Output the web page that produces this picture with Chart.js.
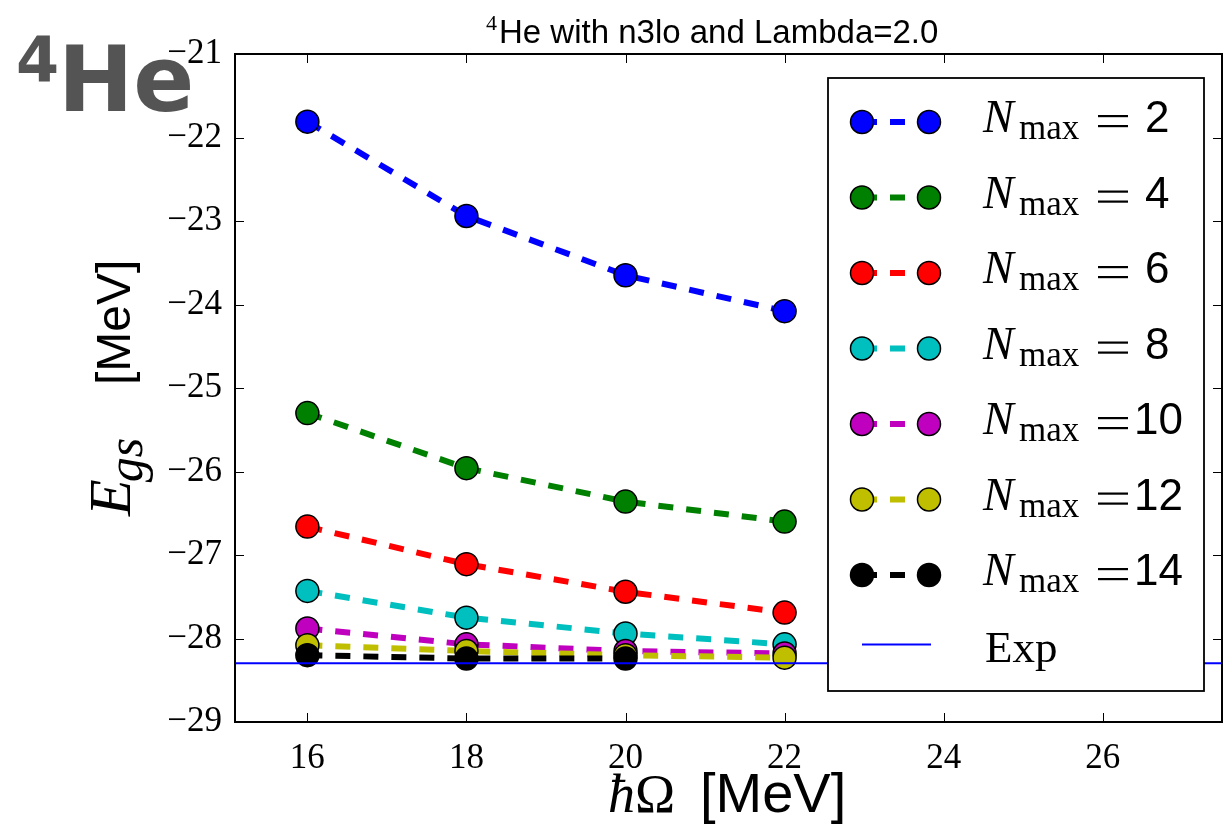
<!DOCTYPE html>
<html>
<head>
<meta charset="utf-8">
<script src="https://cdn.jsdelivr.net/npm/chart.js@4.4.1/dist/chart.umd.min.js"></script>
<style>
  html, body { margin: 0; padding: 0; background: #fff; overflow: hidden; }
  #wrap { width: 1235px; height: 825px; }
</style>
</head>
<body>
<div id="wrap"><canvas id="egsChart" width="1235" height="825"></canvas></div>
<script>
// hbar*Omega values (MeV) and ground-state energies per Nmax
const hbarOmega = [16, 18, 20, 22];
const nmaxLabels = ['2', '4', '6', '8', '10', '12', '14'];
const egsN2  = [-21.81, -22.94, -23.65, -24.08];
const egsN4  = [-25.30, -25.96, -26.36, -26.60];
const egsN6  = [-26.66, -27.11, -27.44, -27.69];
const egsN8  = [-27.43, -27.75, -27.94, -28.07];
const egsN10 = [-27.88, -28.07, -28.15, -28.18];
const egsN12 = [-28.08, -28.15, -28.20, -28.23];
const egsN14 = [-28.20, -28.24, -28.24, null];
const expEgs = -28.296;
const seriesColors = ['#0000ff', '#008000', '#ff0000', '#00bfbf', '#bf00bf', '#bfbf00', '#000000'];
const xTicks = [16, 18, 20, 22, 24, 26];
const yTicks = [-21, -22, -23, -24, -25, -26, -27, -28, -29];
const xMin = 15.09, xMax = 27.5;

const allSeries = [egsN2, egsN4, egsN6, egsN8, egsN10, egsN12, egsN14];

const datasets = allSeries.map((vals, i) => ({
  label: nmaxLabels[i],
  data: hbarOmega.map((x, j) => ({ x: x, y: vals[j] })).filter(p => p.y !== null),
  borderColor: seriesColors[i],
  backgroundColor: seriesColors[i],
  borderWidth: 6,
  borderDash: [15, 13],
  borderCapStyle: 'butt',
  pointRadius: 11.5,
  pointHoverRadius: 11.5,
  pointBorderColor: '#000',
  pointBorderWidth: 1.5,
  pointBackgroundColor: seriesColors[i],
  tension: 0,
  order: allSeries.length - i
}));
datasets.push({
  label: 'Exp',
  data: [{ x: xMin, y: expEgs }, { x: xMax, y: expEgs }],
  borderColor: '#0000ff',
  borderWidth: 2,
  pointRadius: 0,
  order: 0
});

// inward tick marks and the box around the plot
const frame = {
  id: 'frame',
  afterDatasetsDraw(chart) {
    const { ctx, chartArea: a, scales: { x, y } } = chart;
    ctx.save();
    ctx.strokeStyle = '#000';
    ctx.lineWidth = 1;
    ctx.beginPath();
    xTicks.forEach(v => {
      const px = Math.round(x.getPixelForValue(v)) + 0.5;
      ctx.moveTo(px, a.bottom); ctx.lineTo(px, a.bottom - 9);
      ctx.moveTo(px, a.top); ctx.lineTo(px, a.top + 9);
    });
    yTicks.forEach(v => {
      const py = Math.round(y.getPixelForValue(v)) + 0.5;
      ctx.moveTo(a.left, py); ctx.lineTo(a.left + 9, py);
      ctx.moveTo(a.right, py); ctx.lineTo(a.right - 9, py);
    });
    ctx.stroke();
    ctx.lineWidth = 2;
    ctx.strokeRect(a.left, a.top, a.right - a.left, a.bottom - a.top);
    ctx.restore();
  }
};

// legend box drawn by hand (math-style labels)
const legendBox = {
  id: 'legendBox',
  afterDraw(chart) {
    const ctx = chart.ctx;
    ctx.save();
    ctx.fillStyle = '#fff';
    ctx.fillRect(828, 78, 376, 613);
    ctx.strokeStyle = '#000';
    ctx.lineWidth = 1.8;
    ctx.strokeRect(828, 78, 376, 613);
    chart.data.datasets.forEach((ds, i) => {
      if (ds.label === 'Exp') {
        const ey = 644.5;
        ctx.strokeStyle = ds.borderColor;
        ctx.lineWidth = 2;
        ctx.setLineDash([]);
        ctx.beginPath(); ctx.moveTo(862, ey); ctx.lineTo(931, ey); ctx.stroke();
        ctx.fillStyle = '#000';
        ctx.font = '45px "Liberation Serif"';
        ctx.textBaseline = 'alphabetic';
        ctx.textAlign = 'left';
        ctx.fillText('Exp', 985, 662);
        return;
      }
      const ry = 122 + i * 75.5;
      ctx.strokeStyle = ds.borderColor;
      ctx.lineWidth = 6;
      ctx.setLineDash([15, 13]);
      ctx.beginPath(); ctx.moveTo(862, ry); ctx.lineTo(929, ry); ctx.stroke();
      ctx.setLineDash([]);
      [862, 929].forEach(cx => {
        ctx.beginPath();
        ctx.arc(cx, ry, 11.5, 0, Math.PI * 2);
        ctx.fillStyle = ds.backgroundColor;
        ctx.fill();
        ctx.lineWidth = 1.5;
        ctx.strokeStyle = '#000';
        ctx.stroke();
      });
      ctx.fillStyle = '#000';
      ctx.textAlign = 'left';
      ctx.textBaseline = 'alphabetic';
      ctx.font = 'italic 46px "Liberation Serif"';
      ctx.fillText('N', 983, ry + 10);
      ctx.font = '35px "Liberation Serif"';
      ctx.fillText('max', 1019, ry + 17);
      // wide "=" like the math font
      ctx.fillRect(1098, ry - 7, 30, 2.2);
      ctx.fillRect(1098, ry + 3, 30, 2.2);
      ctx.font = '44px "Liberation Sans"';
      ctx.fillText(ds.label, ds.label.length > 1 ? 1134 : 1145, ry + 10);
    });
    ctx.restore();
  }
};

// title, axis titles and the big 4He tag
const texts = {
  id: 'texts',
  afterDraw(chart) {
    const ctx = chart.ctx;
    ctx.save();
    ctx.fillStyle = '#000';
    ctx.textBaseline = 'alphabetic';
    ctx.textAlign = 'left';
    // title
    ctx.font = '22px "Liberation Serif"';
    ctx.fillText('4', 486, 30);
    ctx.font = '33px "Liberation Sans"';
    ctx.fillText('He with n3lo and Lambda=2.0', 499, 43);

    // x axis title
    ctx.font = 'italic 54px "Liberation Serif"';
    ctx.fillText('\u0127', 608, 812);
    let w = ctx.measureText('\u0127').width;
    ctx.font = '54px "Liberation Serif"';
    ctx.fillText('\u03A9', 608 + w, 812);
    ctx.font = '56px "Liberation Sans"';
    ctx.fillText('[MeV]', 700, 812);

    // y axis title, rotated
    ctx.translate(130, 516);
    ctx.rotate(-Math.PI / 2);
    ctx.font = 'italic 60px "Liberation Serif"';
    ctx.fillText('E', 0, 0);
    w = ctx.measureText('E').width;
    ctx.font = 'italic 50px "Liberation Serif"';
    ctx.fillText('gs', w - 3, 12);
    ctx.font = '48px "Liberation Sans"';
    ctx.fillText('[MeV]', 131, 0);
    ctx.setTransform(1, 0, 0, 1, 0, 0);

    // big tag
    ctx.fillStyle = '#545454';
    ctx.font = 'bold 62px "DejaVu Sans"';
    ctx.fillText('4', 16, 81);
    ctx.font = 'bold 90px "DejaVu Sans"';
    ctx.fillText('He', 58, 111);
    ctx.restore();
  }
};

new Chart(document.getElementById('egsChart'), {
  type: 'line',
  data: { datasets: datasets },
  options: {
    responsive: false,
    animation: false,
    layout: { padding: { top: 54, right: 8, left: 0, bottom: 0 } },
    plugins: { legend: { display: false }, title: { display: false }, tooltip: { enabled: false } },
    scales: {
      x: {
        type: 'linear',
        min: xMin,
        max: xMax,
        afterFit: s => { s.height = 103; },
        afterBuildTicks: s => { s.ticks = xTicks.map(v => ({ value: v })); },
        grid: { display: false, drawTicks: false },
        border: { display: false },
        ticks: {
          padding: 16,
          color: '#000',
          font: { family: 'Liberation Serif', size: 35 },
          callback: v => String(v)
        }
      },
      y: {
        type: 'linear',
        min: -29,
        max: -21,
        afterFit: s => { s.width = 235; },
        afterBuildTicks: s => { s.ticks = yTicks.map(v => ({ value: v })); },
        grid: { display: false, drawTicks: false },
        border: { display: false },
        ticks: {
          padding: 13,
          color: '#000',
          font: { family: 'Liberation Serif', size: 35 },
          callback: v => '\u2212' + Math.abs(v)
        }
      }
    }
  },
  plugins: [frame, legendBox, texts]
});
</script>
</body>
</html>
